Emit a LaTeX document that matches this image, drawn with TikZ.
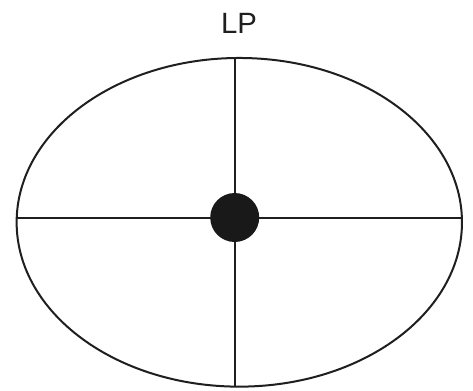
\documentclass[tikz,border=0pt]{standalone}
\usepackage{fontspec}
\setmainfont{Liberation Sans}
\usetikzlibrary{shapes.geometric}
\begin{document}
\begin{tikzpicture}[x=0.75pt,y=-0.75pt,
  outline/.style={line width=1.5pt,draw=black!88},
  rim/.style={ellipse,outline,inner sep=0pt,minimum width=334pt,minimum height=246.5pt},
  hub/.style={circle,fill=black!90,inner sep=0pt,minimum size=36.75pt},
  lbl/.style={font=\fontsize{22}{26}\selectfont,anchor=base,text=black!88}]
\useasboundingbox (0,0) rectangle (473,390);
\node[rim] (E) at (239.3,222.3) {};
\coordinate (T) at (234.7,58.1);
\coordinate (B) at (234.7,386.5);
\coordinate (L) at (16.8,217.5);
\coordinate (R) at (461.8,217.5);
\draw[outline] (T) -- (B);
\draw[outline] (L) -- (R);
\node[hub] (D) at (234.7,217.5) {};
\node[lbl] (LP) at (239,33) {LP};
\end{tikzpicture}
\end{document}
